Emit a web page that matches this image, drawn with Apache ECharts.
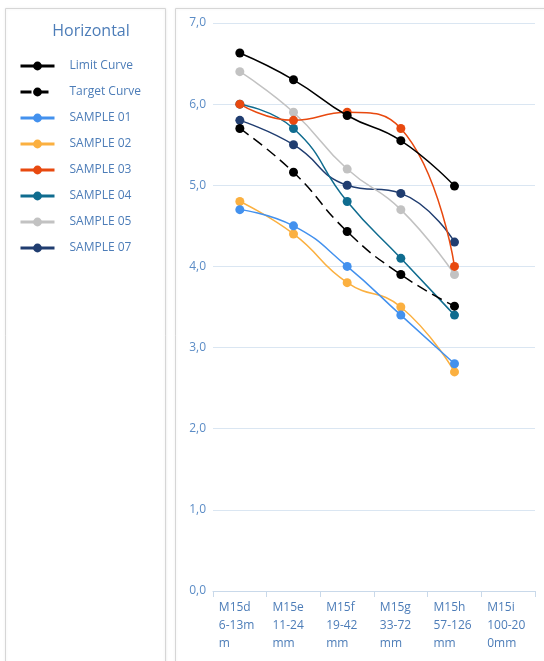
<!DOCTYPE html>
<html>
<head>
<meta charset="utf-8">
<script src="https://cdn.jsdelivr.net/npm/echarts@6/dist/echarts.min.js"></script>
<style>
html,body{margin:0;padding:0;background:#fff;}
#c{width:544px;height:661px;}
</style>
</head>
<body>
<div id="c"></div>
<script>
var categories = ['M15d 6-13mm', 'M15e 11-24 mm', 'M15f 19-42 mm', 'M15g 33-72 mm', 'M15h 57-126 mm', 'M15i 100-200mm'];
var xTickLabels = [['M15d', '6-13m', 'm'], ['M15e', '11-24', 'mm'], ['M15f', '19-42', 'mm'], ['M15g', '33-72', 'mm'], ['M15h', '57-126', 'mm'], ['M15i', '100-20', '0mm']];
var yTicks = [0, 1, 2, 3, 4, 5, 6, 7];

var limitCurve  = [6.63, 6.30, 5.86, 5.55, 4.99];
var targetCurve = [5.70, 5.16, 4.43, 3.90, 3.51];
var sample01 = [4.70, 4.50, 4.00, 3.40, 2.80];
var sample02 = [4.80, 4.40, 3.80, 3.50, 2.70];
var sample03 = [6.00, 5.80, 5.90, 5.70, 4.00];
var sample04 = [6.00, 5.70, 4.80, 4.10, 3.40];
var sample05 = [6.40, 5.90, 5.20, 4.70, 3.90];
var sample07 = [5.80, 5.50, 5.00, 4.90, 4.30];

var seriesNames = ['Limit Curve', 'Target Curve', 'SAMPLE 01', 'SAMPLE 02', 'SAMPLE 03', 'SAMPLE 04', 'SAMPLE 05', 'SAMPLE 07'];
var seriesData = [limitCurve, targetCurve, sample01, sample02, sample03, sample04, sample05, sample07];
var seriesColors = ['#000000', '#000000', '#4391ee', '#fbb040', '#e8490f', '#0f6c8f', '#c2c2c2', '#203d70'];
var seriesDash = ['solid', [11, 6], 'solid', 'solid', 'solid', 'solid', 'solid', 'solid'];

var FONT = '"Open Sans", "Noto Sans", sans-serif';
var chart = echarts.init(document.getElementById('c'), null, {renderer: 'canvas'});

var series = seriesNames.map(function (n, i) {
  return {
    name: n,
    type: 'line',
    data: seriesData[i],
    smooth: 0.5,
    symbol: 'circle',
    symbolSize: 9,
    color: seriesColors[i],
    lineStyle: {width: 1.5, type: seriesDash[i], color: seriesColors[i]},
    itemStyle: {color: seriesColors[i], borderWidth: 0},
    emphasis: {disabled: true},
    z: 10 - i
  };
});

chart.setOption({
  animation: false,
  backgroundColor: '#ffffff',
  title: {
    text: 'Horizontal',
    left: 86,
    textAlign: 'center',
    top: 18,
    textStyle: {fontFamily: FONT, fontSize: 16, fontWeight: 'normal', color: '#4d7db8'}
  },
  graphic: [
    {type: 'rect', shape: {x: 5.5, y: 8.5, width: 160, height: 670}, style: {fill: '#fff', stroke: '#d6d6d6', lineWidth: 1, shadowBlur: 3, shadowColor: 'rgba(0,0,0,0.08)'}, z: -10, silent: true},
    {type: 'rect', shape: {x: 175.5, y: 8.5, width: 380, height: 670}, style: {fill: '#fff', stroke: '#d6d6d6', lineWidth: 1, shadowBlur: 3, shadowColor: 'rgba(0,0,0,0.08)'}, z: -10, silent: true}
  ],
  legend: {
    orient: 'vertical',
    left: 14,
    top: 53,
    padding: 5,
    itemWidth: 34,
    itemHeight: 11,
    itemGap: 10,
    data: seriesNames,
    lineStyle: {width: 3},
    textStyle: {fontFamily: FONT, fontSize: 12, color: '#4d7db8', padding: [0, 0, 0, 10], lineHeight: 16},
    selectedMode: false
  },
  grid: {left: 213, right: 9, top: 23, bottom: 70, containLabel: false},
  xAxis: {
    type: 'category',
    data: categories,
    boundaryGap: true,
    axisLine: {show: true, lineStyle: {color: '#c9d9ea', width: 1}},
    axisTick: {show: true, length: 6, lineStyle: {color: '#c9d9ea'}},
    axisLabel: {
      interval: 0,
      margin: 8,
      align: 'center',
      fontFamily: FONT,
      fontSize: 12,
      color: '#4d7db8',
      formatter: function (v, idx) {
        return xTickLabels[idx].map(function (s) { return '{a|' + s + '}'; }).join('\n');
      },
      rich: {a: {width: 42, align: 'left', fontFamily: FONT, fontSize: 12, color: '#4d7db8', lineHeight: 18}}
    },
    splitLine: {show: false}
  },
  yAxis: {
    type: 'value',
    min: yTicks[0],
    max: yTicks[yTicks.length - 1],
    interval: 1,
    axisLine: {show: false},
    axisTick: {show: false},
    axisLabel: {
      margin: 7,
      fontFamily: FONT,
      fontSize: 12,
      color: '#5b8cc6',
      formatter: function (v) { return v.toFixed(1).replace('.', ','); }
    },
    splitLine: {show: true, lineStyle: {color: '#dae6f2', width: 1}}
  },
  series: series
});
</script>
</body>
</html>
